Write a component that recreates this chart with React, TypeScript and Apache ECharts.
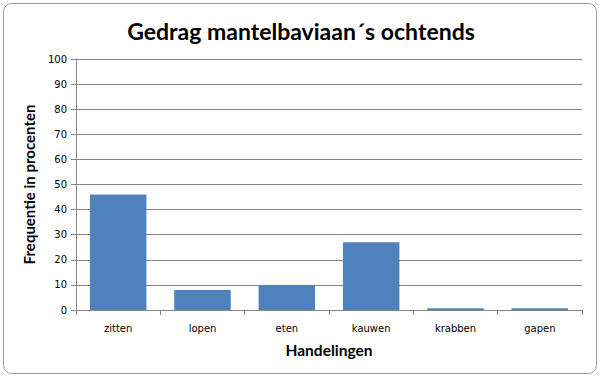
import React, { useEffect, useRef } from "react";
import * as echarts from "echarts";

const categories = ["zitten", "lopen", "eten", "kauwen", "krabben", "gapen"];
const values = [46, 8, 10, 27, 0.7, 0.7];
const yTicks = { min: 0, max: 100, interval: 10 };

export default function App() {
  const ref = useRef<HTMLDivElement>(null);
  useEffect(() => {
    document.body.style.margin = "0";
    const chart = echarts.init(ref.current!, undefined, { renderer: "svg" });
    chart.setOption({
      animation: false,
      backgroundColor: "#ffffff",
      graphic: [
        {
          type: "rect",
          shape: { x: 3.5, y: 3.5, width: 593, height: 370, r: 8 },
          style: { fill: "#ffffff", stroke: "#9a9a9a", lineWidth: 1 },
          z: -10,
        },
      ],
      title: {
        text: "Gedrag mantelbaviaan\u00b4s ochtends",
        left: "center",
        top: 14,
        textStyle: {
          fontFamily: "Lato, 'Open Sans', sans-serif",
          fontWeight: "bold",
          fontSize: 23,
          color: "#000000",
        },
      },
      grid: { left: 76, right: 20, top: 59, bottom: 69, containLabel: false },
      xAxis: {
        type: "category",
        data: categories,
        name: "Handelingen",
        nameLocation: "middle",
        nameGap: 32,
        nameTextStyle: {
          fontFamily: "Lato, 'Open Sans', sans-serif",
          fontWeight: "bold",
          fontSize: 15.5,
          color: "#000",
        },
        axisLine: { lineStyle: { color: "#868686", width: 1 } },
        axisTick: { show: true, alignWithLabel: false, length: 5, lineStyle: { color: "#868686" } },
        axisLabel: {
          fontFamily: "'DejaVu Sans', Verdana, sans-serif",
          fontSize: 10,
          color: "#000",
          margin: 13,
        },
      },
      yAxis: {
        type: "value",
        min: yTicks.min,
        max: yTicks.max,
        interval: yTicks.interval,
        name: "Frequentie in procenten",
        nameLocation: "middle",
        nameGap: 40,
        nameRotate: 90,
        nameTextStyle: {
          fontFamily: "Lato, 'Open Sans', sans-serif",
          fontWeight: "bold",
          fontSize: 15,
          color: "#000",
        },
        axisLine: { show: true, lineStyle: { color: "#868686", width: 1 } },
        axisTick: { show: true, length: 5, inside: false, lineStyle: { color: "#868686" } },
        axisLabel: {
          fontFamily: "'DejaVu Sans', Verdana, sans-serif",
          fontSize: 10,
          color: "#000",
          margin: 9,
        },
        splitLine: { show: true, lineStyle: { color: "#868686", width: 1 } },
      },
      series: [
        {
          type: "bar",
          data: values,
          barCategoryGap: "33%",
          itemStyle: { color: "#4F81BD" },
        },
      ],
    });
    return () => chart.dispose();
  }, []);
  return (
    <div
      ref={ref}
      style={{ position: "fixed", left: 0, top: 0, width: 602, height: 379 }}
    />
  );
}
